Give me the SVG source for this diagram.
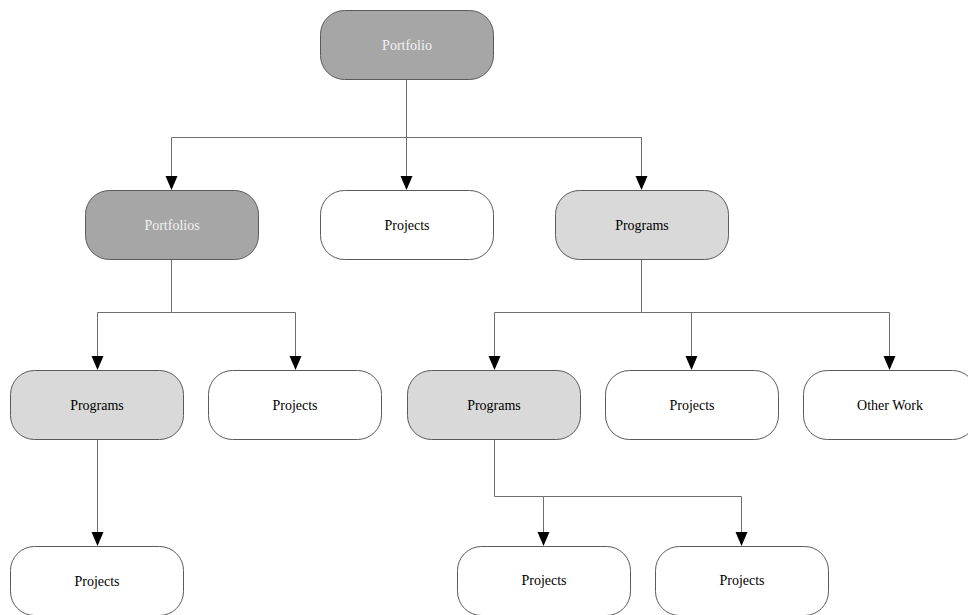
<svg xmlns="http://www.w3.org/2000/svg" width="968" height="615" viewBox="0 0 968 615">
  <style>
    .box { stroke: #5a5a5a; stroke-width: 1; }
    .dark { fill: #a6a6a6; }
    .light { fill: #d9d9d9; }
    .plain { fill: #ffffff; }
    .lbl { font-family: "Liberation Serif", "Times New Roman", serif; font-size: 14px; text-anchor: middle; dominant-baseline: central; fill: #000; }
    .lbl.inv { fill: #f2f2f2; }
    .wire { fill: none; stroke: #6e6e6e; stroke-width: 1; }
    .head { fill: #000; }
  </style>
  <defs>
    <!-- downward arrowhead, tip at origin -->
    <path id="tip" d="M-6,-14 L6,-14 L0,0 Z"/>
  </defs>
  <rect width="968" height="615" fill="#ffffff"/>

  <g id="connectors">
    <path class="wire" d="M406.5,79 V137.5 H171.5 V176"/>
    <path class="wire" d="M406.5,137.5 V176"/>
    <path class="wire" d="M406.5,137.5 H641.5 V176"/>
    <path class="wire" d="M171.5,259 V312.5 H97.5 V356"/>
    <path class="wire" d="M171.5,312.5 H295.5 V356"/>
    <path class="wire" d="M641.5,259 V312.5 H494.5 V356"/>
    <path class="wire" d="M641.5,312.5 H889.5 V356"/>
    <path class="wire" d="M691.5,312.5 V356"/>
    <path class="wire" d="M97.5,439 V532"/>
    <path class="wire" d="M494.5,439 V496.5 H543.5 V532"/>
    <path class="wire" d="M543.5,496.5 H741.5 V532"/>
    <g class="head">
      <use href="#tip" x="171.5" y="190"/>
      <use href="#tip" x="406.5" y="190"/>
      <use href="#tip" x="641.5" y="190"/>
      <use href="#tip" x="97.5" y="370"/>
      <use href="#tip" x="295.5" y="370"/>
      <use href="#tip" x="494.5" y="370"/>
      <use href="#tip" x="691.5" y="370"/>
      <use href="#tip" x="889.5" y="370"/>
      <use href="#tip" x="97.5" y="546"/>
      <use href="#tip" x="543.5" y="546"/>
      <use href="#tip" x="741.5" y="546"/>
    </g>
  </g>

  <g id="portfolio">
    <rect class="box dark" x="320.5" y="10.5" width="173" height="69" rx="24"/>
    <text class="lbl inv" x="407" y="45">Portfolio</text>
  </g>
  <g id="portfolios">
    <rect class="box dark" x="85.5" y="190.5" width="173" height="69" rx="24"/>
    <text class="lbl inv" x="172" y="225">Portfolios</text>
  </g>
  <g id="projects-top">
    <rect class="box plain" x="320.5" y="190.5" width="173" height="69" rx="24"/>
    <text class="lbl" x="407" y="225">Projects</text>
  </g>
  <g id="programs-top">
    <rect class="box light" x="555.5" y="190.5" width="173" height="69" rx="24"/>
    <text class="lbl" x="642" y="225">Programs</text>
  </g>
  <g id="programs-left">
    <rect class="box light" x="10.5" y="370.5" width="173" height="69" rx="24"/>
    <text class="lbl" x="97" y="405">Programs</text>
  </g>
  <g id="projects-left">
    <rect class="box plain" x="208.5" y="370.5" width="173" height="69" rx="24"/>
    <text class="lbl" x="295" y="405">Projects</text>
  </g>
  <g id="programs-mid">
    <rect class="box light" x="407.5" y="370.5" width="173" height="69" rx="24"/>
    <text class="lbl" x="494" y="405">Programs</text>
  </g>
  <g id="projects-mid">
    <rect class="box plain" x="605.5" y="370.5" width="173" height="69" rx="24"/>
    <text class="lbl" x="692" y="405">Projects</text>
  </g>
  <g id="other-work">
    <rect class="box plain" x="803.5" y="370.5" width="173" height="69" rx="24"/>
    <text class="lbl" x="890" y="405">Other Work</text>
  </g>
  <g id="projects-bottom-left">
    <rect class="box plain" x="10.5" y="546.5" width="173" height="69" rx="24"/>
    <text class="lbl" x="97" y="581">Projects</text>
  </g>
  <g id="projects-bottom-a">
    <rect class="box plain" x="457.5" y="546.5" width="173" height="69" rx="24"/>
    <text class="lbl" x="544" y="580">Projects</text>
  </g>
  <g id="projects-bottom-b">
    <rect class="box plain" x="655.5" y="546.5" width="173" height="69" rx="24"/>
    <text class="lbl" x="742" y="580">Projects</text>
  </g>
</svg>
